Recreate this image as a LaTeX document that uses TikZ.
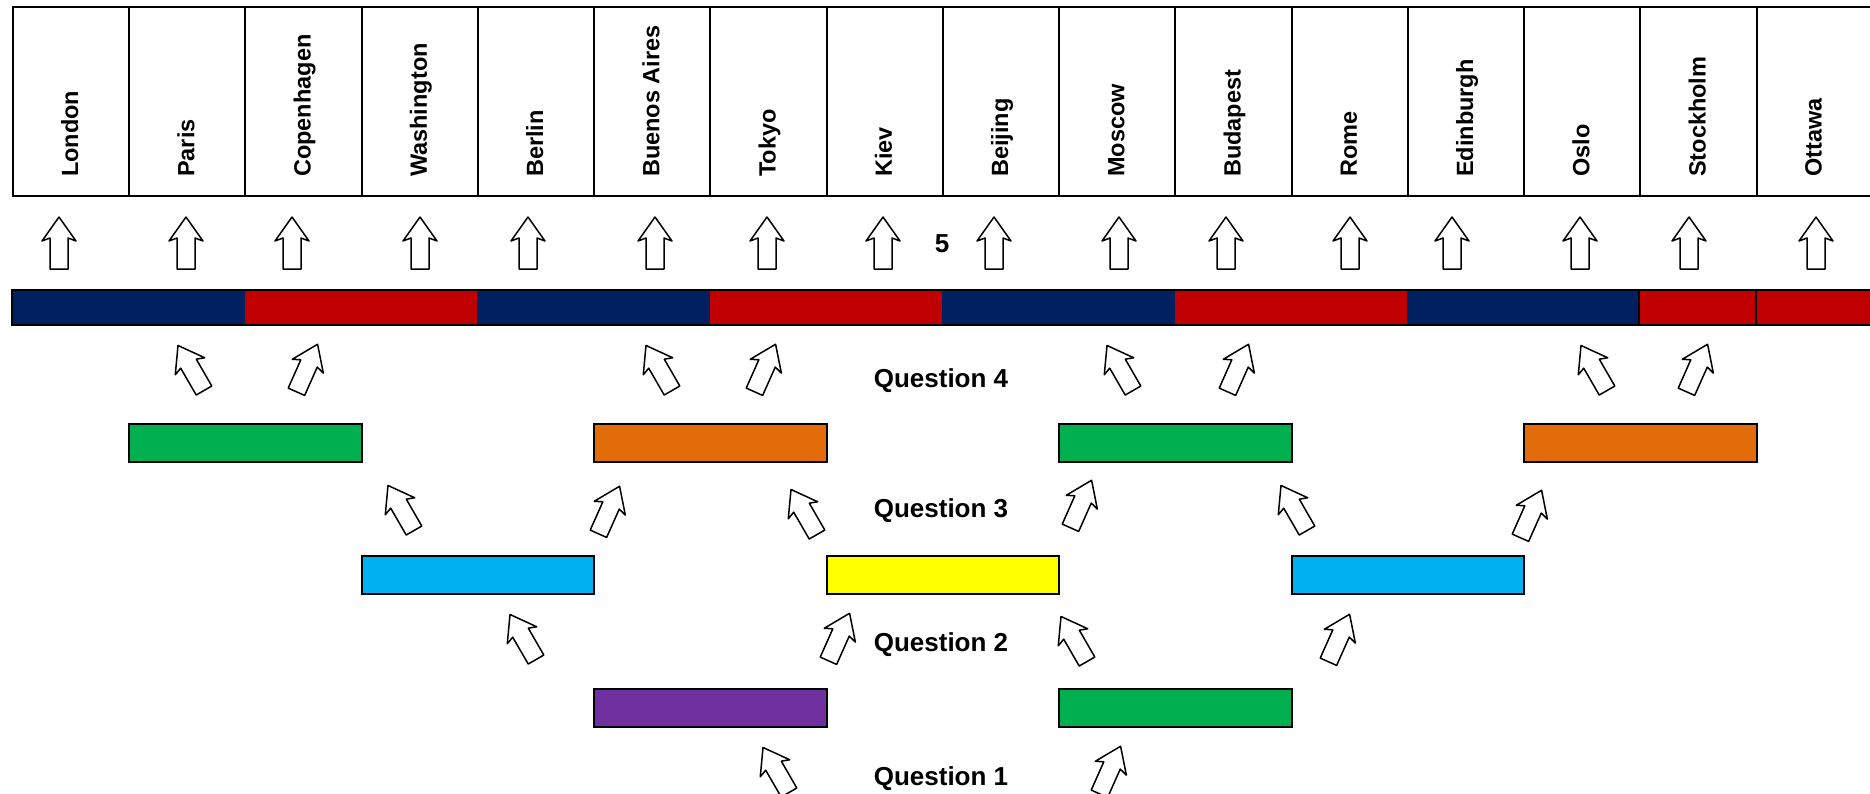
\documentclass[tikz,border=0pt]{standalone}
\usepackage{fontspec}
\setmainfont{Liberation Sans}
\usetikzlibrary{positioning}

\definecolor{navyblue}{HTML}{002060}
\definecolor{darkred}{HTML}{C00000}
\definecolor{qgreen}{HTML}{00B050}
\definecolor{qorange}{HTML}{E36C0A}
\definecolor{qcyan}{HTML}{00B0F0}
\definecolor{qyellow}{HTML}{FFFF00}
\definecolor{qpurple}{HTML}{7030A0}

\tikzset{
	cell/.style={draw,line width=2pt,minimum width=116.24pt,minimum height=189pt,inner sep=0pt,anchor=north west},
	city/.style={rotate=90,anchor=base west,inner sep=0pt,font=\fontsize{23.5}{28}\selectfont\bfseries},
	segment/.style={inner sep=0pt,minimum width=232.48pt,minimum height=35pt,anchor=north west},
	block/.style={draw,line width=2pt,inner sep=0pt,minimum width=232.48pt,minimum height=38pt,anchor=north west},
	question/.style={font=\fontsize{26}{30}\selectfont\bfseries},
	upblock/.pic={
		\draw[line width=1.5pt,fill=white,line join=round]
			(0,-26) -- (17,-2) -- (9,-5) -- (9,26) -- (-9,26) -- (-9,-5) -- (-17,-2) -- cycle;
	}
}

\begin{document}
\begin{tikzpicture}[x=1pt,y=-1pt]
		\useasboundingbox (0,0) rectangle (1870,793);
		\clip (0,0) rectangle (1870,793);
		
		% setup the table of cities, one cell per column
		\foreach \mytext [count=\i from 0] in {London,Paris,Copenhagen,Washington,Berlin,Buenos Aires,Tokyo,Kiev,Beijing,Moscow,Budapest,Rome,Edinburgh,Oslo,Stockholm,Ottawa} {
			\node[cell] (col-\i) at (12+116.24*\i,6) {};
			\node[city] (city-\i) at ([xshift=7pt]col-\i.south |- 0,177) {\mytext};
		}
		
		% arrows from the bar up to the cities
		\foreach \x in {59,186,292,420,528,655,767,883,994,1119,1226,1350,1452,1580,1689,1816} {
			\pic at (\x,243) {upblock};
		}
		\node[question] (five) at (942,244) {5};
		
		% bar of blue and red pairs
		\foreach \i/\c in {0/navyblue,1/darkred,2/navyblue,3/darkred,4/navyblue,5/darkred,6/navyblue,7/darkred} {
			\node[segment,fill=\c] (bar-\i) at (12+232.48*\i,290) {};
		}
		\draw[line width=2pt] (bar-0.north west) rectangle (bar-7.south east);
		\draw[line width=2pt] (bar-7.north west) -- (bar-7.south west);
		\draw[line width=2pt] (bar-7.north) -- (bar-7.south);
		
		% coloured blocks of each question, column/colour/top
		\foreach \mynode/\col/\c/\y in {q4a/1/qgreen/423,q4b/5/qorange/423,q4c/9/qgreen/423,q4d/13/qorange/423,
			q3a/3/qcyan/555,q3b/7/qyellow/555,q3c/11/qcyan/555,
			q2a/5/qpurple/688,q2b/9/qgreen/688} {
			\node[block,fill=\c] (\mynode) at (12+116.24*\col,\y) {};
		}
		
		% tilted arrows between the rows
		\foreach \x/\y/\a in {191/368/30,307/368/-24,659/368/30,765/368/-24,1120/368/30,1238/368/-24,1594/368/30,1697/368/-24,
			401/508/30,609/510/-24,804/512/30,1081/504/-24,1294/508/30,1531/514/-24,
			523/637/30,839/637/-24,1074/639/30,1339/638/-24,
			776/770/30,1110/770/-24} {
			\pic[rotate=\a] at (\x,\y) {upblock};
		}
		
		% question labels
		\node[question] (question-4) at (941,381) {Question 4};
		\node[question] (question-3) at (941,511) {Question 3};
		\node[question] (question-2) at (941,645) {Question 2};
		\node[question] (question-1) at (941,779) {Question 1};
\end{tikzpicture}
\end{document}
